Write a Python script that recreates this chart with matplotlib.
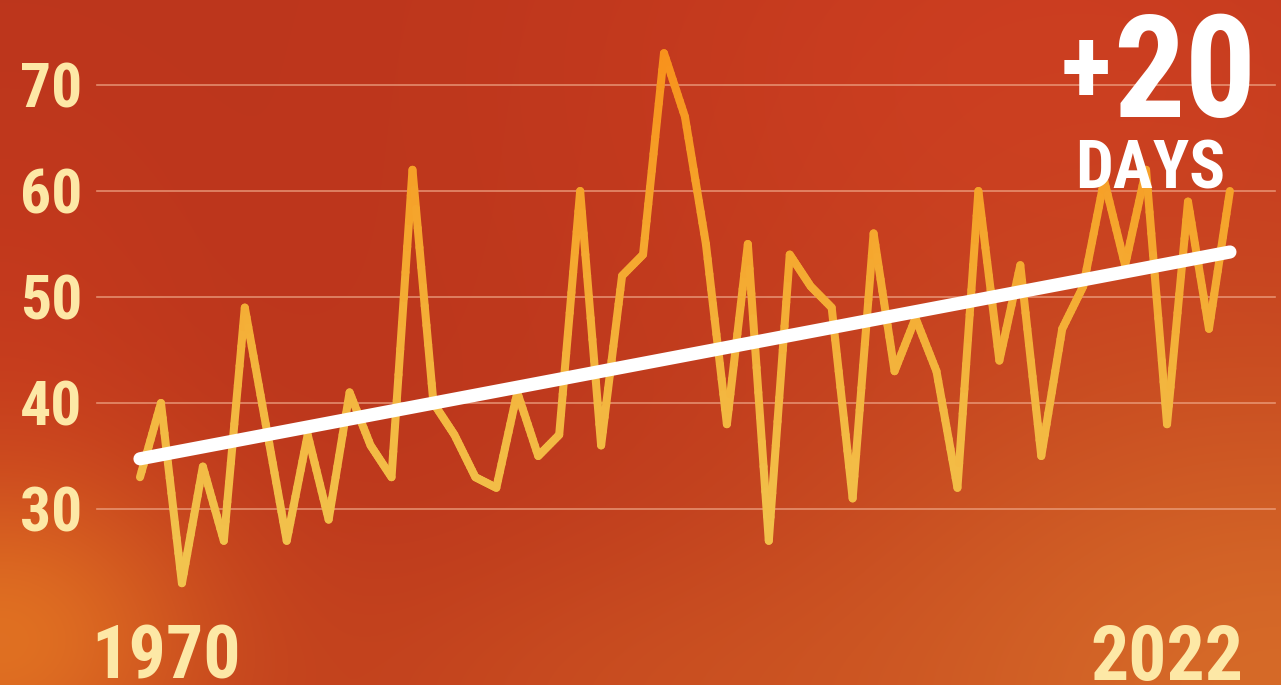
import numpy as np
import matplotlib
matplotlib.use("Agg")
import matplotlib.pyplot as plt
from matplotlib import font_manager
from matplotlib.collections import LineCollection
from matplotlib.colors import LinearSegmentedColormap, Normalize
from matplotlib.font_manager import FontProperties
from matplotlib.textpath import TextPath

# Days per year above the heat threshold, 1970-2022
years = np.arange(1970, 2023)
days = [33, 40, 23, 34, 27, 49, 38, 27, 37, 29,
        41, 36, 33, 62, 40, 37, 33, 32, 41, 35,
        37, 60, 36, 52, 54, 73, 67, 55, 38, 55,
        27, 54, 51, 49, 31, 56, 43, 48, 43, 32,
        60, 44, 53, 35, 47, 51, 61, 53, 62, 38,
        59, 47, 60]
y_ticks = [30, 40, 50, 60, 70]
year_labels = ["1970", "2022"]
headline = "+20"
unit = "DAYS"

W, H = 1281, 685
CREAM = "#fde8a6"

# pick the narrowest bold sans that is installed
installed = {(f.name, f.stretch) for f in font_manager.fontManager.ttflist}
names = {n for n, _ in installed}
prop = None
for fam in ["Liberation Sans Narrow", "Roboto Condensed", "Open Sans Condensed",
            "Noto Sans Condensed"]:
    if fam in names:
        prop = FontProperties(family=fam, weight="bold")
        break
if prop is None:
    for fam in ["Roboto", "Noto Sans", "Liberation Sans", "DejaVu Sans"]:
        if any(n == fam and s == "condensed" for n, s in installed):
            prop = FontProperties(family=fam, weight="bold", stretch="condensed")
            break
if prop is None:
    for fam in ["Liberation Sans", "Roboto", "DejaVu Sans"]:
        if fam in names:
            prop = FontProperties(family=fam, weight="bold")
            break

fig = plt.figure(figsize=(W / 100, H / 100), dpi=100)


def fit_text(s, x0, x1, y0, y1, color, stretch=1.2, anchor="center", z=5):
    """Put text s into the pixel box (x0, y0)-(x1, y1), measured from the top-left."""
    bb = TextPath((0, 0), s, size=100, prop=prop).get_extents()
    size = 100 * (y1 - y0) / bb.height
    width = bb.width * size / 100
    if width > (x1 - x0) * stretch:
        size *= (x1 - x0) * stretch / width
    h = bb.height * size / 100
    if anchor == "top":
        base = y0 + h + bb.y0 * size / 100
    else:
        base = (y0 + y1) / 2 + h / 2 + bb.y0 * size / 100
    fig.text((x0 + x1) / 2 / W, 1 - base / H, s, ha="center", va="baseline",
             fontproperties=prop, fontsize=size * 0.72, color=color, zorder=z)


# warm red background with orange glows towards the bottom corners
yy, xx = np.mgrid[0:H, 0:W]
img = np.zeros((H, W, 3))
img[:] = np.array([188, 54, 28]) / 255


def glow(cx, cy, sx, sy, rgb, strength=1.0):
    w = strength * np.exp(-(((xx - cx) / sx) ** 2 + ((yy - cy) / sy) ** 2) / 2)
    img[:] = img * (1 - w[..., None]) + np.array(rgb) / 255 * w[..., None]


glow(1050, 60, 320, 220, (210, 64, 34), 0.7)
glow(0, 380, 120, 180, (202, 60, 30), 0.6)
glow(650, 700, 260, 110, (204, 82, 32), 0.6)
glow(0, 640, 150, 120, (224, 112, 34))
glow(1281, 700, 360, 260, (214, 106, 40))

bg = fig.add_axes([0, 0, 1, 1])
bg.imshow(img, aspect="auto", extent=(0, W, H, 0))
bg.axis("off")

ax = fig.add_axes([0, 0, 1, 1])
ax.patch.set_alpha(0)
ax.axis("off")
px_year = 20.96
px_unit = 10.6
ax.set_xlim(1970 - 140 / px_year, 1970 + (W - 140) / px_year)
ax.set_ylim(70 - (H - 85) / px_unit, 70 + 85 / px_unit)

for v in y_ticks:
    ax.axhline(v, xmin=97 / W, xmax=1275 / W, color="#f0a888", lw=1.2,
               alpha=0.75, zorder=1)
    yc = ax.transData.transform((1970, v))[1]
    yc = H - yc
    fit_text(str(v), 23, 80, yc - 22, yc + 23, CREAM, z=2)

# yellow-to-orange line, coloured by height
cmap = LinearSegmentedColormap.from_list(
    "heat", ["#f2c34e", "#f3b63f", "#f5a52c", "#f8921c"])
norm = Normalize(25, 73)
segs, mids = [], []
for i in range(len(years) - 1):
    t = np.linspace(0, 1, 13)
    xs = years[i] + (years[i + 1] - years[i]) * t
    ys = days[i] + (days[i + 1] - days[i]) * t
    for j in range(len(t) - 1):
        segs.append([(xs[j], ys[j]), (xs[j + 1], ys[j + 1])])
        mids.append((ys[j] + ys[j + 1]) / 2)
lc = LineCollection(segs, colors=cmap(norm(np.array(mids))), linewidths=5.8,
                    capstyle="round", joinstyle="round", zorder=3)
ax.add_collection(lc)

# linear trend
coef = np.polyfit(years, days, 1)
ends = np.array([years[0], years[-1]])
ax.plot(ends, np.polyval(coef, ends), color="white", lw=9.5,
        solid_capstyle="round", zorder=4)

fit_text(year_labels[0], 108, 225, 625, 682, CREAM, anchor="top")
fit_text(year_labels[1], 1105, 1228, 625, 682, CREAM, anchor="top")

fit_text(headline[0], 1057, 1115, 40, 95, "white", stretch=1.1)
fit_text(headline[1:], 1125, 1245, 12, 122, "white", stretch=1.1)
fit_text(unit, 1090, 1210, 137, 192, "white", stretch=1.2)

fig.savefig("out.png", dpi=100)
